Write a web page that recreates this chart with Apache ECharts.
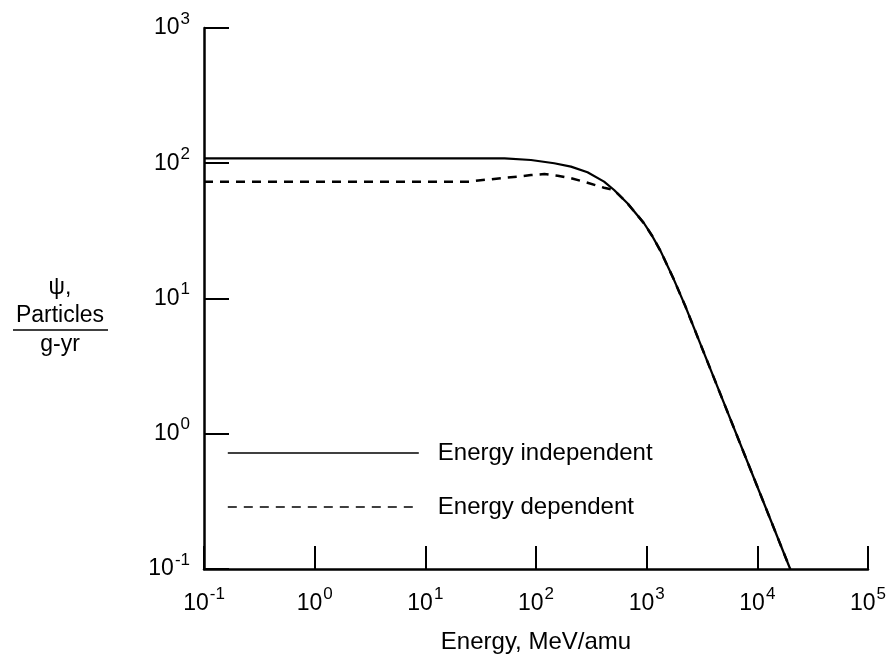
<!DOCTYPE html>
<html><head><meta charset="utf-8">
<script src="https://cdn.jsdelivr.net/npm/echarts@6/dist/echarts.min.js"></script>
<style>html,body{margin:0;padding:0;background:#fff}#c{width:891px;height:662px}</style>
</head><body><div id="c"></div>
<script>
// Data
const seriesNames = ['Energy independent', 'Energy dependent'];
const independentEnergy = [0.1, 1, 10, 26, 52, 90, 146, 207, 292, 412, 508, 670, 946, 1122, 1337, 1762, 2239, 4036, 9268, 19815];
const independentPsi    = [108.6, 108.6, 108.6, 108.6, 108.6, 105.7, 100, 94.4, 85.7, 73.1, 63.4, 50.6, 36.0, 29.0, 22.4, 13.8, 8.75, 2.61, 0.475, 0.1];
const dependentEnergy   = [0.1, 1, 10, 25, 30, 48, 68, 90, 119, 157, 207, 292, 412, 508, 670, 946, 1122, 1337, 1762, 2239, 4036, 9268, 19815];
const dependentPsi      = [73, 73, 73, 73, 74.5, 77.5, 79.6, 81.8, 83.2, 80.9, 77.5, 71.8, 65.9, 63.4, 50.6, 36.0, 29.0, 22.4, 13.8, 8.75, 2.61, 0.475, 0.1];
const xTickExponents = ['-1', '0', '1', '2', '3', '4', '5'];
const yTickExponents = ['-1', '0', '1', '2', '3'];
const xAxisTitle = 'Energy, MeV/amu';
const yAxisTitleLines = ['\u03c8,', 'Particles', 'g-yr'];

const FONT = '"Liberation Sans", Arial, Helvetica, sans-serif';

function pairs(xs, ys) { return xs.map((x, i) => [x, ys[i]]); }
function expLabel(list) {
  return function (value) {
    const e = Math.round(Math.log10(value));
    const s = list.find(t => Number(t) === e);
    return '{b|10}{s|' + (s !== undefined ? s : e) + '}';
  };
}
const richLabel = {
  b: { fontSize: 23, fontFamily: FONT, color: '#000' },
  s: { fontSize: 17, fontFamily: FONT, color: '#000', padding: [0, 0, 18, 1] }
};

const chart = echarts.init(document.getElementById('c'), null, { renderer: 'canvas' });
chart.setOption({
  backgroundColor: '#fff',
  animation: false,
  grid: { left: 204, right: 23, top: 28, bottom: 93, containLabel: false },
  legend: {
    orient: 'vertical',
    left: 222, top: 436,
    itemWidth: 191, itemHeight: 24, itemGap: 30,
    data: [seriesNames[0], seriesNames[1]],
    lineStyle: { width: 1.6 },
    itemStyle: { opacity: 0 },
    textStyle: { fontSize: 24, fontFamily: FONT, color: '#000', padding: [0, 0, 0, 14] }
  },
  xAxis: {
    type: 'log', logBase: 10, min: 0.1, max: 100000, interval: 1,
    name: xAxisTitle, nameLocation: 'middle', nameGap: 61,
    nameTextStyle: { fontSize: 24, fontFamily: FONT, color: '#000' },
    axisLine: { lineStyle: { color: '#000', width: 2.5 } },
    axisTick: { inside: true, length: 23, lineStyle: { color: '#000', width: 2 } },
    minorTick: { show: false },
    splitLine: { show: false },
    axisLabel: { margin: 17, formatter: expLabel(xTickExponents), rich: richLabel }
  },
  yAxis: {
    type: 'log', logBase: 10, min: 0.1, max: 1000, interval: 1,
    axisLine: { lineStyle: { color: '#000', width: 2.5 } },
    axisTick: { inside: true, length: 25, lineStyle: { color: '#000', width: 2 } },
    splitLine: { show: false },
    axisLabel: { margin: 14, formatter: expLabel(yTickExponents), rich: richLabel }
  },
  graphic: [
    { type: 'text', x: 60, y: 288, style: { text: yAxisTitleLines[0], font: '23px ' + FONT, fill: '#000', align: 'center', verticalAlign: 'middle' } },
    { type: 'text', x: 60, y: 316, style: { text: yAxisTitleLines[1], font: '23px ' + FONT, fill: '#000', align: 'center', verticalAlign: 'middle' } },
    { type: 'line', shape: { x1: 13, y1: 330, x2: 108, y2: 330 }, style: { stroke: '#000', lineWidth: 1.5 } },
    { type: 'text', x: 60, y: 345, style: { text: yAxisTitleLines[2], font: '23px ' + FONT, fill: '#000', align: 'center', verticalAlign: 'middle' } }
  ],
  series: [
    {
      name: seriesNames[1], type: 'line', data: pairs(dependentEnergy, dependentPsi),
      showSymbol: false, symbol: 'none', smooth: false, z: 2,
      lineStyle: { color: '#000', width: 2.5, type: [9, 7] }, itemStyle: { color: '#000' }
    },
    {
      name: seriesNames[0], type: 'line', data: pairs(independentEnergy, independentPsi),
      showSymbol: false, symbol: 'none', smooth: false, z: 3,
      lineStyle: { color: '#000', width: 2.2 }, itemStyle: { color: '#000' }
    }
  ]
});
</script>
</body></html>
